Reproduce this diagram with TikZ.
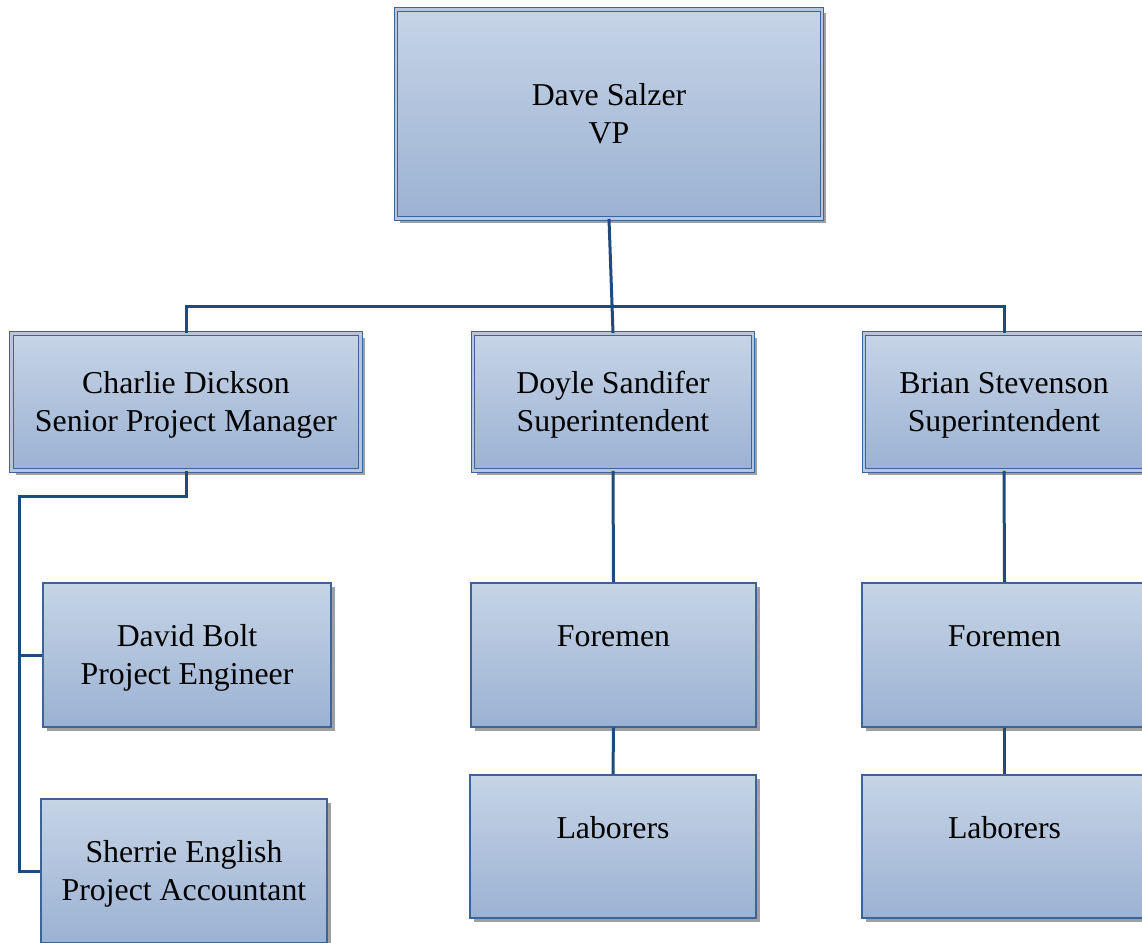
\documentclass[tikz,border=0pt]{standalone}
\usepackage{fontspec}
\setmainfont{Liberation Serif}
\usetikzlibrary{shadows}
\definecolor{topc}{HTML}{C6D4E6}
\definecolor{botc}{HTML}{9BB2D3}
\definecolor{bord}{HTML}{3D6399}
\definecolor{conn}{HTML}{1F4A7E}
\definecolor{shad}{HTML}{A0A0A0}
\newcommand\lnstrut{\rule[-8.4pt]{0pt}{38pt}}
\tikzset{
  orgbox/.style={rectangle, top color=topc, bottom color=botc, draw=bord, line width=1.2pt,
    drop shadow={shadow xshift=4pt, shadow yshift=-4pt, fill=shad, opacity=1},
    align=center, inner sep=0pt, text=black, font=\fontsize{31.8}{38}\selectfont},
  dblbox/.style={orgbox, double=topc!60!botc, double distance=2.4pt, line width=0.9pt},
  link/.style={draw=conn, line width=3pt}
}
\begin{document}
\begin{tikzpicture}[x=1pt,y=-1pt]
\useasboundingbox (0,0) rectangle (1142,942);
% top
\node[dblbox, minimum width=426pt, minimum height=209pt] (vp) at (609,114) {\lnstrut Dave Salzer\\\lnstrut VP};
% second row
\node[dblbox, minimum width=349pt, minimum height=137pt] (charlie) at (186,402) {\lnstrut Charlie Dickson\\\lnstrut Senior Project Manager};
\node[dblbox, minimum width=280pt, minimum height=137pt] (doyle) at (613,402) {\lnstrut Doyle Sandifer\\\lnstrut Superintendent};
\node[dblbox, minimum width=280pt, minimum height=137pt] (brian) at (1004,402) {\lnstrut Brian Stevenson\\\lnstrut Superintendent};
% left column
\node[orgbox, minimum width=288pt, minimum height=144pt] (david) at (187,655) {\lnstrut David Bolt\\\lnstrut Project Engineer};
\node[orgbox, minimum width=286pt, minimum height=144pt] (sherrie) at (184,871) {\lnstrut Sherrie English\\\lnstrut Project Accountant};
% middle column
\node[orgbox, minimum width=285pt, minimum height=144pt] (fore1) at (613.5,655) {\lnstrut Foremen\\\lnstrut};
\node[orgbox, minimum width=286pt, minimum height=143pt] (lab1) at (613,846.5) {\lnstrut Laborers\\\lnstrut};
% right column
\node[orgbox, minimum width=285pt, minimum height=144pt] (fore2) at (1004.5,655) {\lnstrut Foremen\\\lnstrut};
\node[orgbox, minimum width=285pt, minimum height=143pt] (lab2) at (1004.5,846.5) {\lnstrut Laborers\\\lnstrut};
% connectors
\coordinate (bus) at (0,306);
\coordinate (lb) at (19,496);
\draw[link] (vp.south) -- (doyle.north);
\draw[link] (charlie.north) -- (charlie.north |- bus) -- (brian.north |- bus) -- (brian.north);
\draw[link] (charlie.south) -- (charlie.south |- lb) -- (lb) -- (lb |- sherrie.west) -- (sherrie.west);
\draw[link] (lb |- david.west) -- (david.west);
\draw[link] (doyle.south) -- (fore1.north);
\draw[link] (fore1.south) -- (lab1.north);
\draw[link] (brian.south) -- (fore2.north);
\draw[link] (fore2.south) -- (lab2.north);
\end{tikzpicture}
\end{document}
